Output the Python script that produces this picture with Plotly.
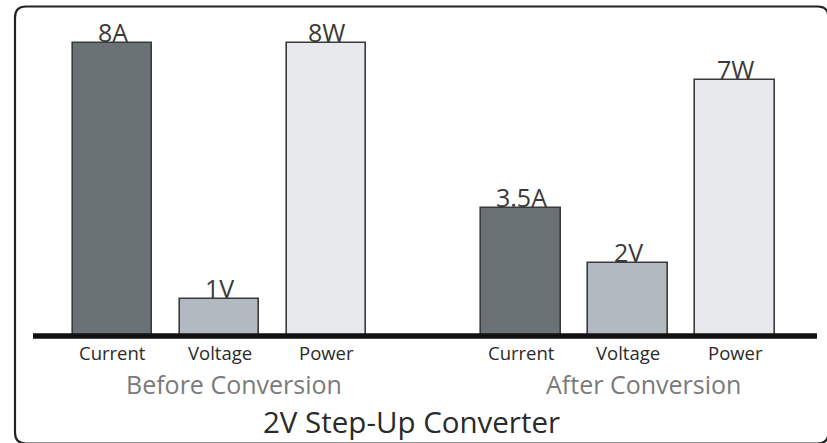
import plotly.graph_objects as go

# Measurements before and after the step-up converter
groups = ["Before Conversion", "After Conversion"]
quantities = ["Current", "Voltage", "Power"]
units = ["A", "V", "W"]
before_values = [8, 1, 8]
after_values = [3.5, 2, 7]
title = "2V Step-Up Converter"

bar_colors = ["#6b7275", "#b3b9c0", "#e8e9ed"]

W, H = 827, 443
GROUP_OFFSET = 3.818   # horizontal distance between the two groups
BAR_WIDTH = 0.74

# axis scaling: pixels per unit
X_PX = 107.0
X_ORIGIN = 112.5
Y_PX = 36.6
Y_ORIGIN = 336.0


def px_x(p):
    return p / W


def px_y(p):
    return 1 - p / H


fig = go.Figure()

annotations = []
for g, (name, vals) in enumerate(zip(groups, [before_values, after_values])):
    xs = [g * GROUP_OFFSET + i for i in range(len(quantities))]
    fig.add_trace(go.Bar(
        x=xs, y=vals, width=BAR_WIDTH,
        marker=dict(color=bar_colors, line=dict(color="#3a3a3a", width=1.6)),
        hoverinfo="skip", showlegend=False,
    ))
    for x, v, u, q in zip(xs, vals, units, quantities):
        annotations.append(dict(
            x=x, y=v, xref="x", yref="y", text=f"{v:g}{u}",
            showarrow=False, yanchor="bottom", yshift=-8,
            font=dict(family="Open Sans", size=25, color="#3a3a3a"),
        ))
        annotations.append(dict(
            x=x, y=px_y(352), xref="x", yref="paper", text=q,
            showarrow=False, yanchor="middle",
            font=dict(family="Open Sans", size=18.5, color="#2a2a2a"),
        ))
    annotations.append(dict(
        x=g * GROUP_OFFSET + 1.14, y=px_y(384), xref="x", yref="paper", text=name,
        showarrow=False, yanchor="middle",
        font=dict(family="Open Sans", size=25, color="#7a7a7a"),
    ))

annotations.append(dict(
    x=px_x(411), y=px_y(421), xref="paper", yref="paper", text=title,
    showarrow=False, yanchor="middle",
    font=dict(family="Open Sans", size=29.5, color="#2a2a2a"),
))

# rounded frame around the chart (right and bottom edges run off the page)
L, T, R, B, r = 15, 6.5, 828.5, 443.5, 11
frame = (
    f"M {px_x(L)},{px_y(B - r)} L {px_x(L)},{px_y(T + r)} "
    f"Q {px_x(L)},{px_y(T)} {px_x(L + r)},{px_y(T)} "
    f"L {px_x(R - r)},{px_y(T)} Q {px_x(R)},{px_y(T)} {px_x(R)},{px_y(T + r)} "
    f"L {px_x(R)},{px_y(B - r)} Q {px_x(R)},{px_y(B)} {px_x(R - r)},{px_y(B)} "
    f"L {px_x(L + r)},{px_y(B)} Q {px_x(L)},{px_y(B)} {px_x(L)},{px_y(B - r)} Z"
)

shapes = [
    dict(type="path", path=frame, xref="paper", yref="paper",
         line=dict(color="#222222", width=2.2), layer="above"),
    dict(type="line", xref="paper", yref="y", x0=px_x(33), x1=px_x(817), y0=0, y1=0,
         line=dict(color="#111111", width=5.5), layer="above"),
]

fig.update_layout(
    width=W, height=H,
    margin=dict(l=0, r=0, t=0, b=0),
    paper_bgcolor="white", plot_bgcolor="white",
    xaxis=dict(range=[-X_ORIGIN / X_PX, (W - X_ORIGIN) / X_PX], visible=False, fixedrange=True),
    yaxis=dict(range=[-(H - Y_ORIGIN) / Y_PX, Y_ORIGIN / Y_PX], visible=False, fixedrange=True),
    annotations=annotations,
    shapes=shapes,
    bargap=0,
)

fig.write_html("out.html", config={"displayModeBar": False})
